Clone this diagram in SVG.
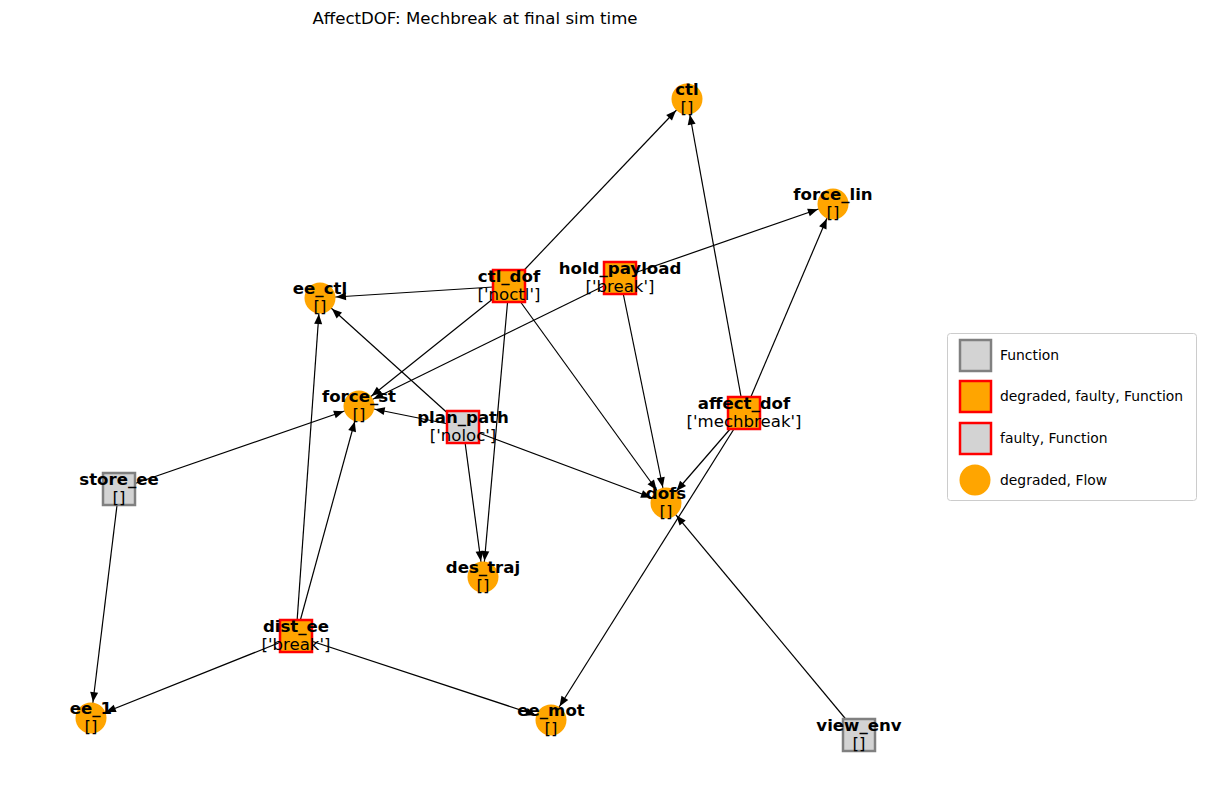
<svg xmlns="http://www.w3.org/2000/svg" width="1206" height="812" viewBox="0 0 1206 812">
<style>
text{font-family:"DejaVu Sans","Liberation Sans",sans-serif;fill:#000}
.nm{font-size:16.6px;font-weight:bold;text-anchor:middle}
.st{font-size:16.6px;text-anchor:middle}
.lg{font-size:13.9px}
.e{stroke:#000;stroke-width:1.2;fill:none;marker-end:url(#ah)}
.fn{fill:#d3d3d3;stroke:#808080;stroke-width:2.5}
.df{fill:#ffa500;stroke:#ff0000;stroke-width:2.5}
.fa{fill:#d3d3d3;stroke:#ff0000;stroke-width:2.5}
.fl{fill:#ffa500;stroke:none}
</style>
<defs>
<marker id="ah" markerUnits="userSpaceOnUse" markerWidth="40" markerHeight="20" refX="26" refY="0" orient="auto" overflow="visible">
<path d="M0,-4 L10,0 L0,4 z" fill="#000"/>
</marker>
</defs>
<rect width="1206" height="812" fill="#fff"/>
<text x="475" y="24" style="font-size:16.6px;text-anchor:middle">AffectDOF: Mechbreak at final sim time</text>
<g id="connectors">
<line class="e" x1="509" y1="286" x2="687" y2="99"/>
<line class="e" x1="509" y1="286" x2="320" y2="298"/>
<line class="e" x1="509" y1="286" x2="359" y2="406"/>
<line class="e" x1="509" y1="286" x2="483" y2="577"/>
<line class="e" x1="509" y1="286" x2="666" y2="503"/>
<line class="e" x1="620" y1="278" x2="833" y2="204"/>
<line class="e" x1="620" y1="278" x2="359" y2="406"/>
<line class="e" x1="620" y1="278" x2="666" y2="503"/>
<line class="e" x1="744" y1="413" x2="687" y2="99"/>
<line class="e" x1="744" y1="413" x2="833" y2="204"/>
<line class="e" x1="744" y1="413" x2="666" y2="503"/>
<line class="e" x1="744" y1="413" x2="551" y2="720"/>
<line class="e" x1="463" y1="427" x2="320" y2="298"/>
<line class="e" x1="463" y1="427" x2="359" y2="406"/>
<line class="e" x1="463" y1="427" x2="483" y2="577"/>
<line class="e" x1="463" y1="427" x2="666" y2="503"/>
<line class="e" x1="119" y1="489" x2="359" y2="406"/>
<line class="e" x1="119" y1="489" x2="91" y2="718"/>
<line class="e" x1="296" y1="636" x2="320" y2="298"/>
<line class="e" x1="296" y1="636" x2="359" y2="406"/>
<line class="e" x1="296" y1="636" x2="91" y2="718"/>
<line class="e" x1="296" y1="636" x2="551" y2="720"/>
<line class="e" x1="859" y1="735" x2="666" y2="503"/>
</g>
<g id="ctl"><circle class="fl" cx="687" cy="99" r="15.5"/><text class="nm" x="687" y="95">ctl</text><text class="st" x="687" y="113">[]</text></g>
<g id="force_lin"><circle class="fl" cx="833" cy="204" r="15.5"/><text class="nm" x="833" y="200">force_lin</text><text class="st" x="833" y="218">[]</text></g>
<g id="ee_ctl"><circle class="fl" cx="320" cy="298" r="15.5"/><text class="nm" x="320" y="294">ee_ctl</text><text class="st" x="320" y="312">[]</text></g>
<g id="force_st"><circle class="fl" cx="359" cy="406" r="15.5"/><text class="nm" x="359" y="402">force_st</text><text class="st" x="359" y="420">[]</text></g>
<g id="dofs"><circle class="fl" cx="666" cy="503" r="15.5"/><text class="nm" x="666" y="499">dofs</text><text class="st" x="666" y="517">[]</text></g>
<g id="des_traj"><circle class="fl" cx="483" cy="577" r="15.5"/><text class="nm" x="483" y="573">des_traj</text><text class="st" x="483" y="591">[]</text></g>
<g id="ee_1"><circle class="fl" cx="91" cy="718" r="15.5"/><text class="nm" x="91" y="714">ee_1</text><text class="st" x="91" y="732">[]</text></g>
<g id="ee_mot"><circle class="fl" cx="551" cy="720" r="15.5"/><text class="nm" x="551" y="716">ee_mot</text><text class="st" x="551" y="734">[]</text></g>
<g id="ctl_dof"><rect class="df" x="493" y="270" width="32" height="32"/><text class="nm" x="509" y="282">ctl_dof</text><text class="st" x="509" y="300">['noctl']</text></g>
<g id="hold_payload"><rect class="df" x="604" y="262" width="32" height="32"/><text class="nm" x="620" y="274">hold_payload</text><text class="st" x="620" y="292">['break']</text></g>
<g id="plan_path"><rect class="fa" x="447" y="411" width="32" height="32"/><text class="nm" x="463" y="423">plan_path</text><text class="st" x="463" y="441">['noloc']</text></g>
<g id="affect_dof"><rect class="df" x="728" y="397" width="32" height="32"/><text class="nm" x="744" y="409">affect_dof</text><text class="st" x="744" y="427">['mechbreak']</text></g>
<g id="store_ee"><rect class="fn" x="103" y="473" width="32" height="32"/><text class="nm" x="119" y="485">store_ee</text><text class="st" x="119" y="503">[]</text></g>
<g id="dist_ee"><rect class="df" x="280" y="620" width="32" height="32"/><text class="nm" x="296" y="632">dist_ee</text><text class="st" x="296" y="650">['break']</text></g>
<g id="view_env"><rect class="fn" x="843" y="719" width="32" height="32"/><text class="nm" x="859" y="731">view_env</text><text class="st" x="859" y="749">[]</text></g>
<g id="legend">
<rect x="947.5" y="333.5" width="249" height="167" rx="3" fill="#fff" stroke="#cccccc" stroke-width="1"/>
<rect class="fn" x="960" y="340" width="31" height="31"/>
<text class="lg" x="1000" y="360">Function</text>
<rect class="df" x="960" y="381" width="31" height="31"/>
<text class="lg" x="1000" y="401">degraded, faulty, Function</text>
<rect class="fa" x="960" y="423" width="31" height="31"/>
<text class="lg" x="1000" y="443">faulty, Function</text>
<circle class="fl" cx="975" cy="480" r="15.5"/>
<text class="lg" x="1000" y="485">degraded, Flow</text>
</g>
</svg>
